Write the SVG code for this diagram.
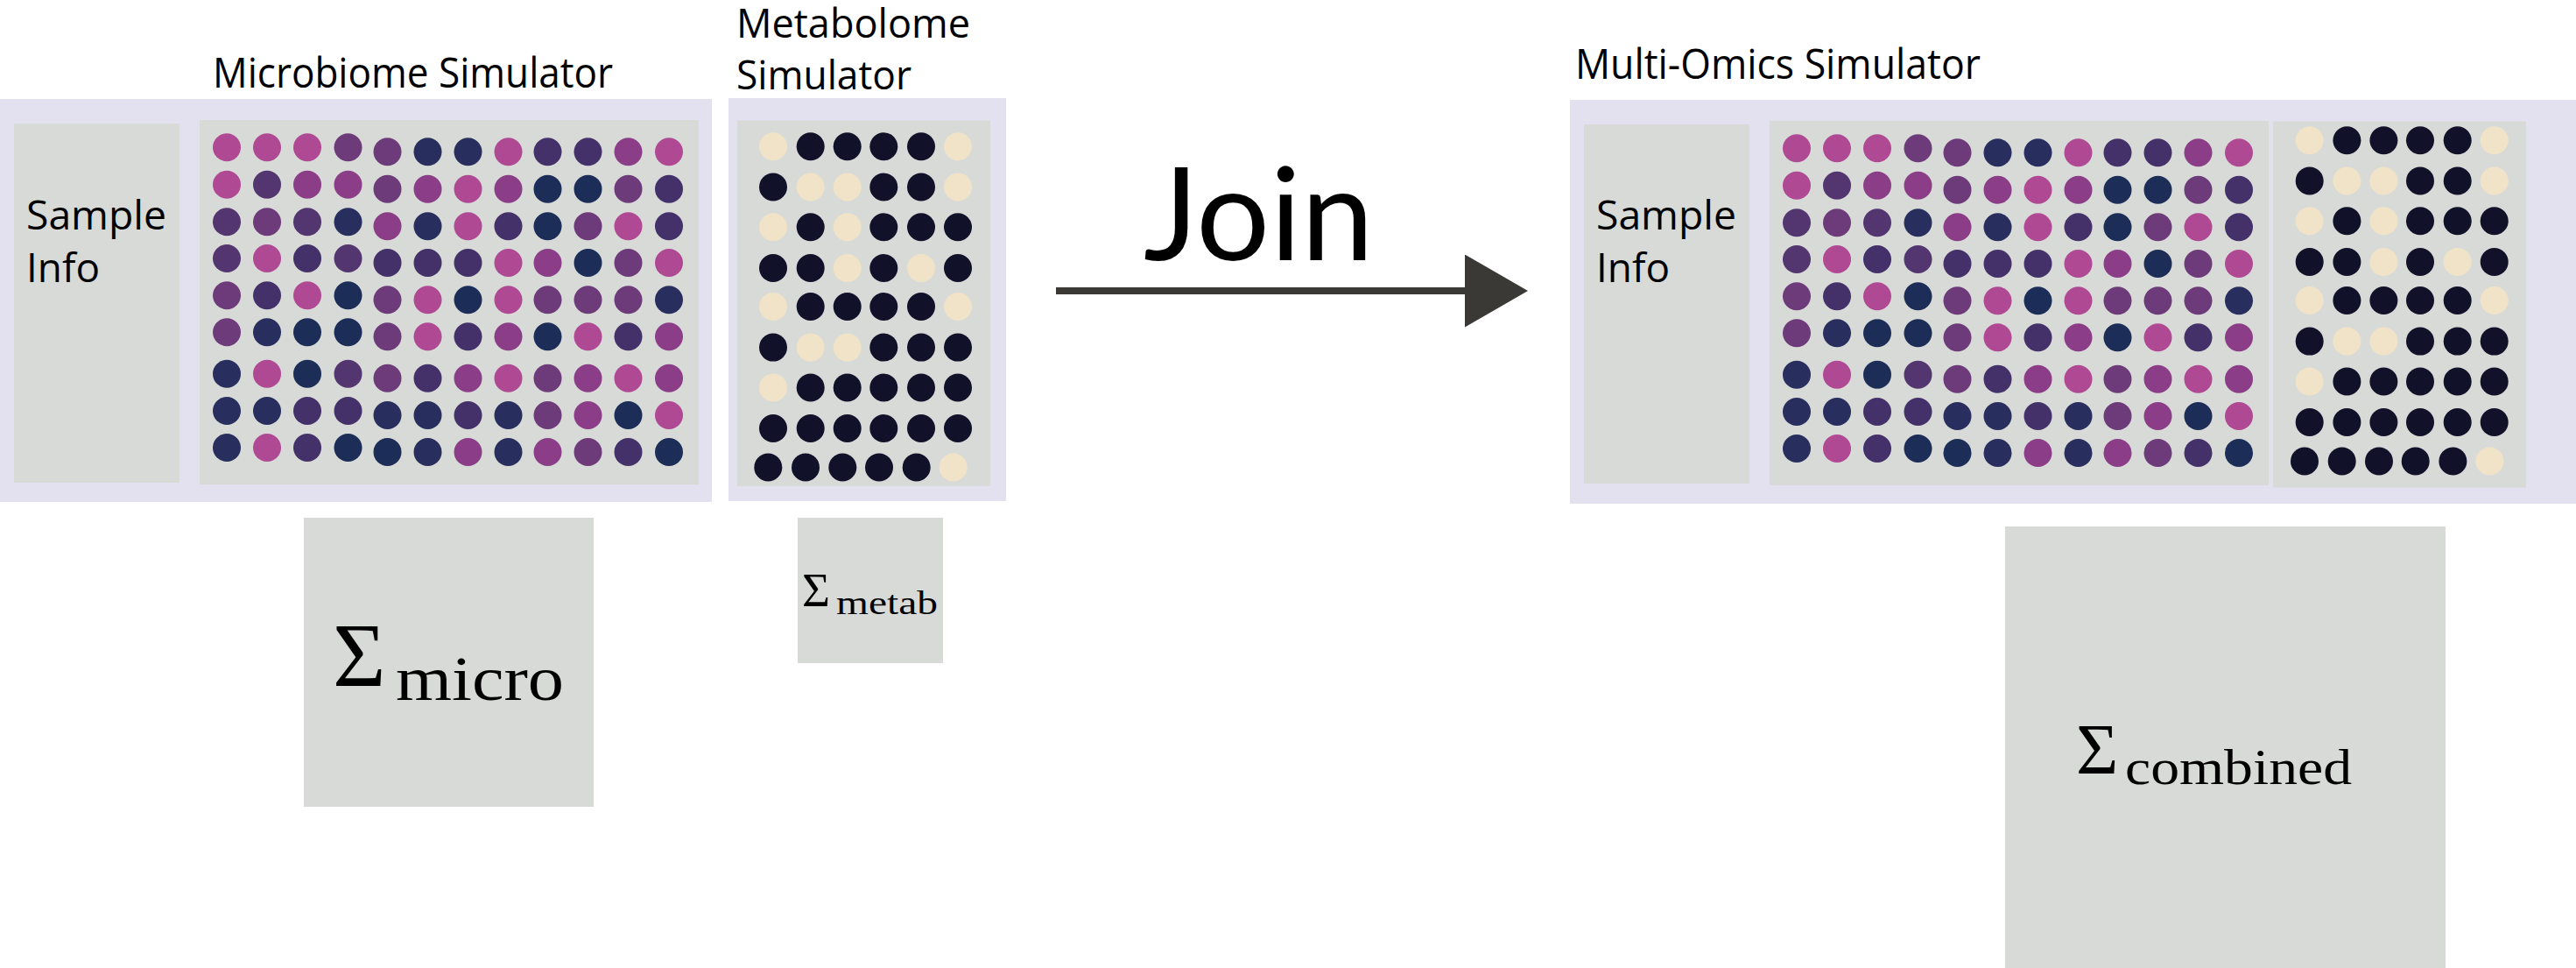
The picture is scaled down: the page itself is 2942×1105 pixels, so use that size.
<svg xmlns="http://www.w3.org/2000/svg" xmlns:xlink="http://www.w3.org/1999/xlink" width="2942" height="1105" viewBox="0 0 2942 1105">
<style>
.lav{fill:#e3e0ef}
.gry{fill:#d8dad7}
.lbl{font-family:"Open Sans","Liberation Sans",sans-serif;fill:#000}
.join{font-family:"Lato","Open Sans",sans-serif;fill:#000}
.math{font-family:"Liberation Serif","DejaVu Serif",serif;fill:#000}
circle{stroke:none}
.P{fill:#b04994}.M{fill:#8b3d88}.V{fill:#6d3a7a}.D{fill:#53356f}.I{fill:#45316a}.N{fill:#282e5d}.B{fill:#1c2d58}
.C{fill:#f0e3c8}.K{fill:#12112a}
.conn{stroke:#3a3936;stroke-width:8;fill:none}
</style>
<defs>
<marker id="arrowhead" markerUnits="userSpaceOnUse" markerWidth="72" markerHeight="83" refX="0" refY="41.5" orient="auto">
<path d="M0,0 L72,41.5 L0,83 Z" fill="#3a3936"/>
</marker>
<g id="microDots">
<g>
<circle class="P" cx="259" cy="168.3" r="16"/><circle class="P" cx="305" cy="168.3" r="16"/><circle class="P" cx="351" cy="168.3" r="16"/><circle class="V" cx="397.5" cy="168.3" r="16"/>
<circle class="V" cx="442.5" cy="173.3" r="16"/><circle class="N" cx="488.5" cy="173.3" r="16"/><circle class="N" cx="534.5" cy="173.3" r="16"/><circle class="P" cx="580.5" cy="173.3" r="16"/><circle class="I" cx="625.5" cy="173.3" r="16"/><circle class="I" cx="671.5" cy="173.3" r="16"/><circle class="M" cx="717.5" cy="173.3" r="16"/><circle class="P" cx="764" cy="173.3" r="16"/>
</g>
<g>
<circle class="P" cx="259" cy="210.7" r="16"/><circle class="D" cx="305" cy="210.7" r="16"/><circle class="M" cx="351" cy="210.7" r="16"/><circle class="M" cx="397.5" cy="210.7" r="16"/>
<circle class="V" cx="442.5" cy="215.7" r="16"/><circle class="M" cx="488.5" cy="215.7" r="16"/><circle class="P" cx="534.5" cy="215.7" r="16"/><circle class="M" cx="580.5" cy="215.7" r="16"/><circle class="B" cx="625.5" cy="215.7" r="16"/><circle class="B" cx="671.5" cy="215.7" r="16"/><circle class="V" cx="717.5" cy="215.7" r="16"/><circle class="I" cx="764" cy="215.7" r="16"/>
</g>
<g>
<circle class="D" cx="259" cy="253.3" r="16"/><circle class="V" cx="305" cy="253.3" r="16"/><circle class="D" cx="351" cy="253.3" r="16"/><circle class="N" cx="397.5" cy="253.3" r="16"/>
<circle class="M" cx="442.5" cy="258.3" r="16"/><circle class="N" cx="488.5" cy="258.3" r="16"/><circle class="P" cx="534.5" cy="258.3" r="16"/><circle class="I" cx="580.5" cy="258.3" r="16"/><circle class="B" cx="625.5" cy="258.3" r="16"/><circle class="V" cx="671.5" cy="258.3" r="16"/><circle class="P" cx="717.5" cy="258.3" r="16"/><circle class="I" cx="764" cy="258.3" r="16"/>
</g>
<g>
<circle class="D" cx="259" cy="295" r="16"/><circle class="P" cx="305" cy="295" r="16"/><circle class="I" cx="351" cy="295" r="16"/><circle class="D" cx="397.5" cy="295" r="16"/>
<circle class="I" cx="442.5" cy="300" r="16"/><circle class="I" cx="488.5" cy="300" r="16"/><circle class="I" cx="534.5" cy="300" r="16"/><circle class="P" cx="580.5" cy="300" r="16"/><circle class="M" cx="625.5" cy="300" r="16"/><circle class="B" cx="671.5" cy="300" r="16"/><circle class="V" cx="717.5" cy="300" r="16"/><circle class="P" cx="764" cy="300" r="16"/>
</g>
<g>
<circle class="V" cx="259" cy="337.3" r="16"/><circle class="I" cx="305" cy="337.3" r="16"/><circle class="P" cx="351" cy="337.3" r="16"/><circle class="B" cx="397.5" cy="337.3" r="16"/>
<circle class="V" cx="442.5" cy="342.3" r="16"/><circle class="P" cx="488.5" cy="342.3" r="16"/><circle class="B" cx="534.5" cy="342.3" r="16"/><circle class="P" cx="580.5" cy="342.3" r="16"/><circle class="V" cx="625.5" cy="342.3" r="16"/><circle class="V" cx="671.5" cy="342.3" r="16"/><circle class="V" cx="717.5" cy="342.3" r="16"/><circle class="N" cx="764" cy="342.3" r="16"/>
</g>
<g>
<circle class="V" cx="259" cy="379.3" r="16"/><circle class="N" cx="305" cy="379.3" r="16"/><circle class="B" cx="351" cy="379.3" r="16"/><circle class="B" cx="397.5" cy="379.3" r="16"/>
<circle class="V" cx="442.5" cy="384.3" r="16"/><circle class="P" cx="488.5" cy="384.3" r="16"/><circle class="I" cx="534.5" cy="384.3" r="16"/><circle class="M" cx="580.5" cy="384.3" r="16"/><circle class="B" cx="625.5" cy="384.3" r="16"/><circle class="P" cx="671.5" cy="384.3" r="16"/><circle class="I" cx="717.5" cy="384.3" r="16"/><circle class="M" cx="764" cy="384.3" r="16"/>
</g>
<g>
<circle class="N" cx="259" cy="426.7" r="16"/><circle class="P" cx="305" cy="426.7" r="16"/><circle class="B" cx="351" cy="426.7" r="16"/><circle class="D" cx="397.5" cy="426.7" r="16"/>
<circle class="V" cx="442.5" cy="431.7" r="16"/><circle class="I" cx="488.5" cy="431.7" r="16"/><circle class="M" cx="534.5" cy="431.7" r="16"/><circle class="P" cx="580.5" cy="431.7" r="16"/><circle class="V" cx="625.5" cy="431.7" r="16"/><circle class="M" cx="671.5" cy="431.7" r="16"/><circle class="P" cx="717.5" cy="431.7" r="16"/><circle class="M" cx="764" cy="431.7" r="16"/>
</g>
<g>
<circle class="N" cx="259" cy="469" r="16"/><circle class="N" cx="305" cy="469" r="16"/><circle class="I" cx="351" cy="469" r="16"/><circle class="I" cx="397.5" cy="469" r="16"/>
<circle class="N" cx="442.5" cy="474" r="16"/><circle class="N" cx="488.5" cy="474" r="16"/><circle class="I" cx="534.5" cy="474" r="16"/><circle class="N" cx="580.5" cy="474" r="16"/><circle class="V" cx="625.5" cy="474" r="16"/><circle class="M" cx="671.5" cy="474" r="16"/><circle class="B" cx="717.5" cy="474" r="16"/><circle class="P" cx="764" cy="474" r="16"/>
</g>
<g>
<circle class="N" cx="259" cy="511" r="16"/><circle class="P" cx="305" cy="511" r="16"/><circle class="I" cx="351" cy="511" r="16"/><circle class="B" cx="397.5" cy="511" r="16"/>
<circle class="B" cx="442.5" cy="516" r="16"/><circle class="N" cx="488.5" cy="516" r="16"/><circle class="M" cx="534.5" cy="516" r="16"/><circle class="N" cx="580.5" cy="516" r="16"/><circle class="M" cx="625.5" cy="516" r="16"/><circle class="V" cx="671.5" cy="516" r="16"/><circle class="I" cx="717.5" cy="516" r="16"/><circle class="B" cx="764" cy="516" r="16"/>
</g>
</g>
<g id="metabDots">
<circle class="C" cx="883" cy="167.2" r="16"/><circle class="K" cx="925.7" cy="167.2" r="16"/><circle class="K" cx="967.7" cy="167.2" r="16"/><circle class="K" cx="1009.3" cy="167.2" r="16"/><circle class="K" cx="1052" cy="167.2" r="16"/><circle class="C" cx="1094" cy="167.2" r="16"/>
<circle class="K" cx="883" cy="213.5" r="16"/><circle class="C" cx="925.7" cy="213.5" r="16"/><circle class="C" cx="967.7" cy="213.5" r="16"/><circle class="K" cx="1009.3" cy="213.5" r="16"/><circle class="K" cx="1052" cy="213.5" r="16"/><circle class="C" cx="1094" cy="213.5" r="16"/>
<circle class="C" cx="883" cy="259.3" r="16"/><circle class="K" cx="925.7" cy="259.3" r="16"/><circle class="C" cx="967.7" cy="259.3" r="16"/><circle class="K" cx="1009.3" cy="259.3" r="16"/><circle class="K" cx="1052" cy="259.3" r="16"/><circle class="K" cx="1094" cy="259.3" r="16"/>
<circle class="K" cx="883" cy="306" r="16"/><circle class="K" cx="925.7" cy="306" r="16"/><circle class="C" cx="967.7" cy="306" r="16"/><circle class="K" cx="1009.3" cy="306" r="16"/><circle class="C" cx="1052" cy="306" r="16"/><circle class="K" cx="1094" cy="306" r="16"/>
<circle class="C" cx="883" cy="350" r="16"/><circle class="K" cx="925.7" cy="350" r="16"/><circle class="K" cx="967.7" cy="350" r="16"/><circle class="K" cx="1009.3" cy="350" r="16"/><circle class="K" cx="1052" cy="350" r="16"/><circle class="C" cx="1094" cy="350" r="16"/>
<circle class="K" cx="883" cy="396.6" r="16"/><circle class="C" cx="925.7" cy="396.6" r="16"/><circle class="C" cx="967.7" cy="396.6" r="16"/><circle class="K" cx="1009.3" cy="396.6" r="16"/><circle class="K" cx="1052" cy="396.6" r="16"/><circle class="K" cx="1094" cy="396.6" r="16"/>
<circle class="C" cx="883" cy="442.5" r="16"/><circle class="K" cx="925.7" cy="442.5" r="16"/><circle class="K" cx="967.7" cy="442.5" r="16"/><circle class="K" cx="1009.3" cy="442.5" r="16"/><circle class="K" cx="1052" cy="442.5" r="16"/><circle class="K" cx="1094" cy="442.5" r="16"/>
<circle class="K" cx="883" cy="489" r="16"/><circle class="K" cx="925.7" cy="489" r="16"/><circle class="K" cx="967.7" cy="489" r="16"/><circle class="K" cx="1009.3" cy="489" r="16"/><circle class="K" cx="1052" cy="489" r="16"/><circle class="K" cx="1094" cy="489" r="16"/>
<circle class="K" cx="877.3" cy="533.5" r="16"/><circle class="K" cx="920" cy="533.5" r="16"/><circle class="K" cx="962.3" cy="533.5" r="16"/><circle class="K" cx="1004" cy="533.5" r="16"/><circle class="K" cx="1046.7" cy="533.5" r="16"/><circle class="C" cx="1088.7" cy="533.5" r="16"/>
</g>
</defs>

<rect width="2942" height="1105" fill="#ffffff"/>

<g id="microbiome-simulator">
<text class="lbl" x="243" y="100" font-size="48" textLength="457" lengthAdjust="spacingAndGlyphs">Microbiome Simulator</text>
<rect class="lav" x="0" y="113" width="813" height="460"/>
<rect class="gry" x="16" y="141" width="189" height="410"/>
<text class="lbl" font-size="45"><tspan x="30" y="262" textLength="160" lengthAdjust="spacingAndGlyphs">Sample</tspan><tspan x="30" y="322" textLength="84" lengthAdjust="spacingAndGlyphs">Info</tspan></text>
<rect class="gry" x="228" y="137" width="570" height="416"/>
<use xlink:href="#microDots"/>
</g>

<g id="metabolome-simulator">
<text class="lbl" font-size="46"><tspan x="841" y="43" textLength="267" lengthAdjust="spacingAndGlyphs">Metabolome</tspan><tspan x="841" y="101.5" textLength="200" lengthAdjust="spacingAndGlyphs">Simulator</tspan></text>
<rect class="lav" x="832" y="112" width="317" height="460"/>
<rect class="gry" x="842" y="137.5" width="289" height="417.5"/>
<use xlink:href="#metabDots"/>
</g>

<g id="sigma-micro">
<rect class="gry" x="347" y="591" width="331" height="330"/>
<text class="math" x="380" y="783" font-size="104">Σ</text>
<text class="math" x="452" y="799" font-size="72" textLength="192" lengthAdjust="spacingAndGlyphs">micro</text>
</g>

<g id="sigma-metab">
<rect class="gry" x="911" y="591" width="166" height="166"/>
<text class="math" x="916" y="691.5" font-size="55">Σ</text>
<text class="math" x="955" y="700.5" font-size="38" textLength="116" lengthAdjust="spacingAndGlyphs">metab</text>
</g>

<g id="connectors">
<line class="conn" x1="1206" y1="332" x2="1673" y2="332" marker-end="url(#arrowhead)"/>
<text class="join" x="1306" y="296.5" font-size="148" textLength="263" lengthAdjust="spacingAndGlyphs">Join</text>
</g>

<g id="multi-omics-simulator">
<text class="lbl" x="1799" y="90" font-size="48" textLength="463" lengthAdjust="spacingAndGlyphs">Multi-Omics Simulator</text>
<rect class="lav" x="1793" y="114" width="1149" height="461"/>
<rect class="gry" x="1809" y="142" width="189" height="410"/>
<text class="lbl" font-size="45"><tspan x="1823" y="262" textLength="160" lengthAdjust="spacingAndGlyphs">Sample</tspan><tspan x="1823" y="322" textLength="84" lengthAdjust="spacingAndGlyphs">Info</tspan></text>
<rect class="gry" x="2021" y="138" width="570" height="416"/>
<use xlink:href="#microDots" transform="translate(1793,1)"/>
<rect class="gry" x="2596" y="138.5" width="289" height="418"/>
<use xlink:href="#metabDots" transform="translate(1754.7,-7)"/>
</g>

<g id="sigma-combined">
<rect class="gry" x="2290" y="601" width="503" height="504"/>
<text class="math" x="2371" y="883" font-size="83">Σ</text>
<text class="math" x="2427" y="894.5" font-size="58" textLength="259" lengthAdjust="spacingAndGlyphs">combined</text>
</g>
</svg>
